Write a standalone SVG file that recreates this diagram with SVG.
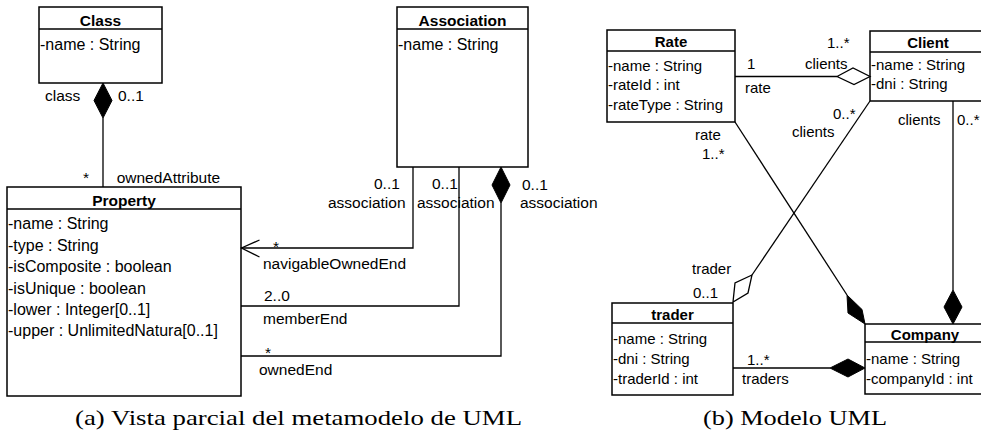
<svg xmlns="http://www.w3.org/2000/svg" width="981" height="442" viewBox="0 0 981 442">
  <style>
    .box { fill: #ffffff; stroke: #000000; stroke-width: 1.5; }
    .sep { stroke: #000000; stroke-width: 1.3; }
    .edge { fill: none; stroke: #000000; stroke-width: 1.3; }
    .filled { fill: #000000; stroke: #000000; stroke-width: 1; }
    .hollow { fill: #ffffff; stroke: #000000; stroke-width: 1.3; }
    text { font-family: "Liberation Sans", Arial, Helvetica, sans-serif; fill: #000000; }
    .l { font-size: 15.5px; }
    .a { font-size: 16px; }
    .r { font-size: 15px; }
    .title { font-weight: bold; text-anchor: middle; }
    .caption { font-family: "Liberation Serif", "DejaVu Serif", serif; font-size: 22px; }
  </style>

  <!-- (a) metamodel view -->
  <g id="class-Class">
    <rect class="box" x="39" y="7" width="123" height="76"/>
    <line class="sep" x1="39" y1="29" x2="162" y2="29"/>
    <text class="l title" x="100.5" y="25.5">Class</text>
    <text class="a" x="40" y="49.5">-name : String</text>
  </g>

  <g id="class-Association">
    <rect class="box" x="397" y="7" width="131" height="160"/>
    <line class="sep" x1="397" y1="29" x2="528" y2="29"/>
    <text class="l title" x="462.5" y="25.5">Association</text>
    <text class="a" x="398" y="49.5">-name : String</text>
  </g>

  <g id="class-Property">
    <rect class="box" x="7" y="187" width="234" height="209"/>
    <line class="sep" x1="7" y1="209" x2="241" y2="209"/>
    <text class="l title" x="124" y="205.5">Property</text>
    <text class="a" x="8" y="229">-name : String</text>
    <text class="a" x="8" y="250.7">-type : String</text>
    <text class="a" x="8" y="272.4">-isComposite : boolean</text>
    <text class="a" x="8" y="294">-isUnique : boolean</text>
    <text class="a" x="8" y="314.7">-lower : Integer[0..1]</text>
    <text class="a" x="8" y="336.4">-upper : UnlimitedNatura[0..1]</text>
  </g>

  <!-- (b) UML model -->
  <g id="class-Rate">
    <rect class="box" x="607" y="30" width="128" height="92"/>
    <line class="sep" x1="607" y1="51" x2="735" y2="51"/>
    <text class="r title" x="671" y="47">Rate</text>
    <text class="r" x="608" y="71">-name : String</text>
    <text class="r" x="608" y="90.3">-rateId : int</text>
    <text class="r" x="608" y="110.3">-rateType : String</text>
  </g>

  <g id="class-Client">
    <rect class="box" x="870" y="31" width="116" height="70"/>
    <line class="sep" x1="870" y1="52" x2="986" y2="52"/>
    <text class="r title" x="928" y="48">Client</text>
    <text class="r" x="871" y="69.6">-name : String</text>
    <text class="r" x="871" y="88.6">-dni : String</text>
  </g>

  <g id="class-trader">
    <rect class="box" x="612" y="303" width="121" height="92"/>
    <line class="sep" x1="612" y1="323" x2="733" y2="323"/>
    <text class="r title" x="672.5" y="320.3">trader</text>
    <text class="r" x="613" y="343.6">-name : String</text>
    <text class="r" x="613" y="363.6">-dni : String</text>
    <text class="r" x="613" y="383.6">-traderId : int</text>
  </g>

  <g id="class-Company">
    <rect class="box" x="865" y="324" width="121" height="70"/>
    <line class="sep" x1="865" y1="342" x2="986" y2="342"/>
    <text class="r title" x="925" y="340.3">Company</text>
    <text class="r" x="866" y="363.6">-name : String</text>
    <text class="r" x="866" y="383.6">-companyId : int</text>
  </g>

  <g id="connectors">
    <!-- Class owns Property (ownedAttribute) -->
    <line class="edge" x1="103" y1="118" x2="103" y2="187"/>
    <polygon class="filled" points="103,83 112,100.5 103,118 94,100.5"/>
    <text class="l" x="45" y="100.5">class</text>
    <text class="l" x="118" y="100.5">0..1</text>
    <text class="l" x="83" y="182.5">*</text>
    <text class="l" x="116.7" y="182.5">ownedAttribute</text>

    <!-- navigableOwnedEnd -->
    <polyline class="edge" points="413,167 413,248 241,248"/>
    <polyline class="edge" points="259.5,240 241.5,248 259.5,257"/>
    <text class="l" x="374" y="188.5">0..1</text>
    <text class="l" x="328" y="207.5">association</text>
    <text class="l" x="273" y="252">*</text>
    <text class="l" x="263" y="269">navigableOwnedEnd</text>

    <!-- memberEnd -->
    <polyline class="edge" points="459,167 459,306 241,306"/>
    <text class="l" x="432" y="188.5">0..1</text>
    <text class="l" x="417" y="207.5">association</text>
    <text class="l" x="264" y="300.5">2..0</text>
    <text class="l" x="263" y="324">memberEnd</text>

    <!-- ownedEnd -->
    <polyline class="edge" points="501,203 501,356 241,356"/>
    <polygon class="filled" points="501,167 510,185 501,203 492,185"/>
    <text class="l" x="522" y="189.5">0..1</text>
    <text class="l" x="520" y="207.5">association</text>
    <text class="l" x="265" y="358">*</text>
    <text class="l" x="259" y="375">ownedEnd</text>

    <!-- Rate - Client aggregation -->
    <line class="edge" x1="735" y1="76.5" x2="837" y2="76.5"/>
    <polygon class="hollow" points="837,76.5 853,68 870,76.5 854,84.5"/>
    <text class="r" x="747" y="69">1</text>
    <text class="r" x="745" y="93">rate</text>
    <text class="r" x="827" y="48">1..*</text>
    <text class="r" x="805" y="68.6">clients</text>

    <!-- Rate - Company composition -->
    <line class="edge" x1="735" y1="122" x2="847" y2="295"/>
    <polygon class="filled" points="847,295 862,309.5 865,324 848,313"/>
    <text class="r" x="695" y="140.3">rate</text>
    <text class="r" x="702" y="158.5">1..*</text>

    <!-- Client - trader aggregation -->
    <line class="edge" x1="870" y1="101" x2="752" y2="275"/>
    <polygon class="hollow" points="752,275 735,283 733,302 748,293"/>
    <text class="r" x="833" y="118.5">0..*</text>
    <text class="r" x="792" y="137">clients</text>
    <text class="r" x="692" y="273.5">trader</text>
    <text class="r" x="693" y="298">0..1</text>

    <!-- Client - Company composition -->
    <line class="edge" x1="953" y1="101" x2="953" y2="290"/>
    <polygon class="filled" points="953,290 962,307 953,324 944,307"/>
    <text class="r" x="898" y="124.7">clients</text>
    <text class="r" x="957" y="124.7">0..*</text>

    <!-- trader - Company composition -->
    <line class="edge" x1="733" y1="368" x2="830" y2="368"/>
    <polygon class="filled" points="830,368 848,359 865,368 848,377"/>
    <text class="r" x="747" y="364.6">1..*</text>
    <text class="r" x="742" y="383.6">traders</text>
  </g>

  <text class="caption" x="75" y="424.5" textLength="447" lengthAdjust="spacingAndGlyphs">(a) Vista parcial del metamodelo de UML</text>
  <text class="caption" x="703" y="424.5" textLength="184" lengthAdjust="spacingAndGlyphs">(b) Modelo UML</text>
</svg>
